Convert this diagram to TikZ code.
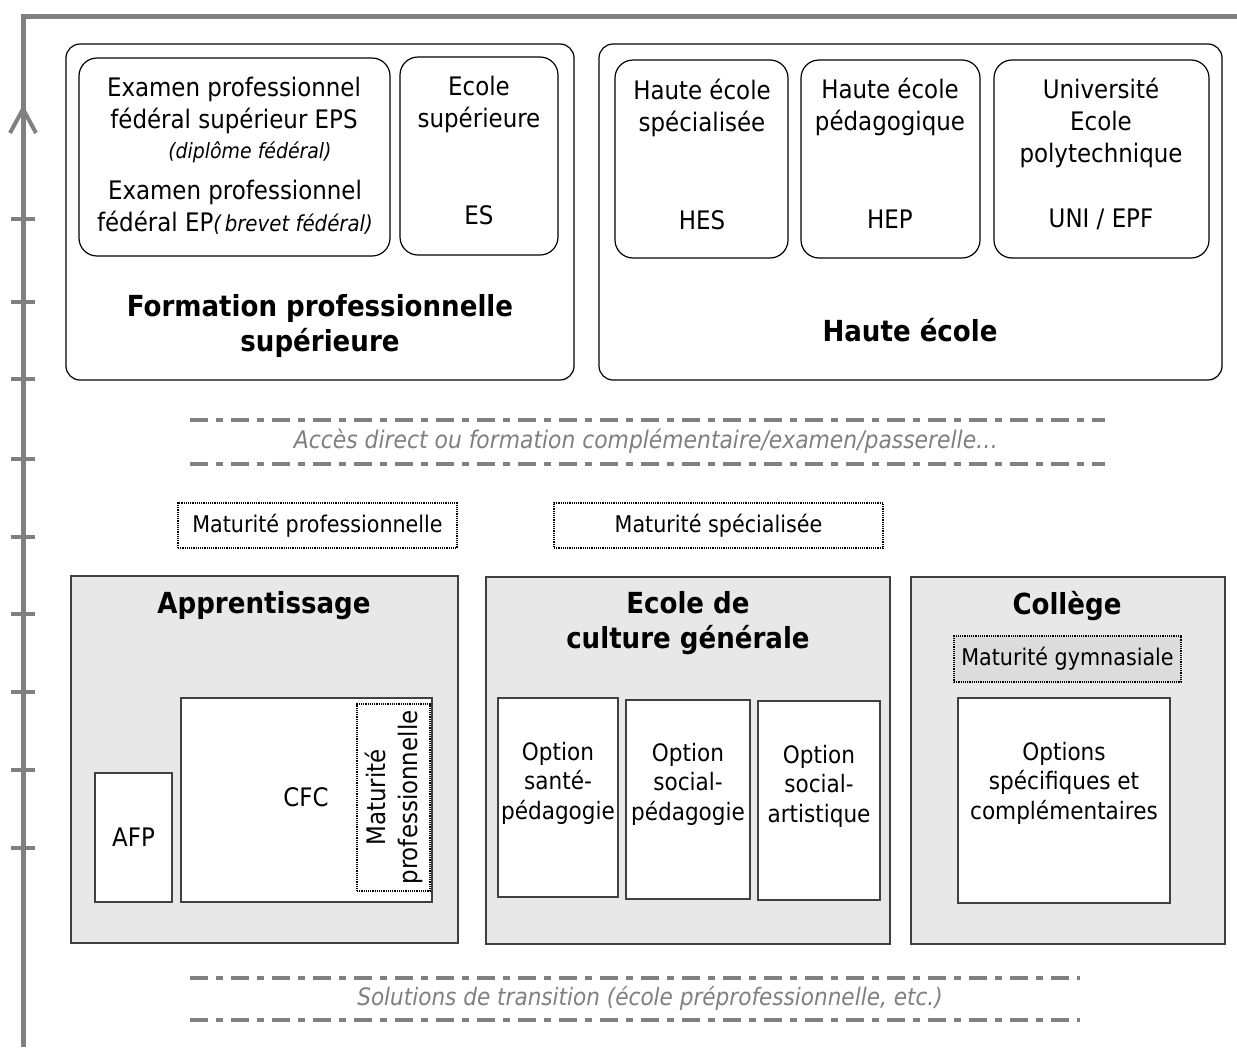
\documentclass[tikz,border=0pt]{standalone}
\usepackage{fontspec}
\setmainfont{DejaVu Sans Condensed}[BoldFont={DejaVu Sans Condensed Bold},ItalicFont={DejaVu Sans Condensed Oblique},BoldItalicFont={DejaVu Sans Condensed Bold Oblique}]
\definecolor{framegray}{HTML}{808080}
\definecolor{boxline}{HTML}{404040}
\definecolor{panelfill}{HTML}{E8E8E8}
\definecolor{matfill}{HTML}{DCDCDC}
\definecolor{notegray}{HTML}{7F7F7F}
\begin{document}
\begin{tikzpicture}[x=1pt,y=-1pt,
  frame/.style={draw=framegray,line width=5pt},
  tickmark/.style={draw=framegray,line width=4pt},
  rbox/.style={draw=black,line width=1.2pt,rounded corners=14pt,inner sep=0pt,outer sep=0pt,anchor=north west},
  panel/.style={draw=boxline,fill=panelfill,line width=1.8pt,inner sep=0pt,outer sep=0pt,anchor=north west},
  wbox/.style={draw=boxline,fill=white,line width=1.8pt,inner sep=0pt,outer sep=0pt,anchor=north west},
  dotbox/.style={draw=black,densely dotted,line width=1.2pt,inner sep=0pt,outer sep=0pt,anchor=north west},
  txt/.style={align=center,inner sep=0pt,font=\fontsize{25.5}{32}\selectfont},
  smalltxt/.style={align=center,inner sep=0pt,font=\fontsize{23}{28}\selectfont},
  opttxt/.style={align=center,inner sep=0pt,font=\fontsize{24}{29.5}\selectfont},
  title/.style={align=center,inner sep=0pt,font=\fontsize{29}{35}\selectfont\bfseries},
  note/.style={align=center,inner sep=0pt,text=notegray,font=\fontsize{24.3}{30}\selectfont\itshape},
  dashdot/.style={draw=framegray,line width=4pt,dash pattern=on 18pt off 8pt on 7pt off 8pt}
]
\useasboundingbox (0,0) rectangle (1237,1047);
% frame
\coordinate (ftop) at (1237,16);
\coordinate (fcorner) at (23,16);
\coordinate (fbottom) at (23,1047);
\draw[frame] (ftop) -- (fcorner) -- (fbottom);
\coordinate (arrL) at (10,133);
\coordinate (arrA) at (23,109);
\coordinate (arrR) at (36,133);
\draw[frame,line width=4pt] (arrL) -- (arrA) -- (arrR);
\foreach \ty [count=\i] in {219,302,379,459,537,614,692,770,848}{
  \coordinate (tl\i) at (11,\ty);
  \coordinate (tr\i) at (35,\ty);
  \draw[tickmark] (tl\i) -- (tr\i);
}
% Formation professionnelle superieure
\node[rbox,minimum width=508pt,minimum height=336pt] (fps) at (66,44) {};
\node[rbox,rounded corners=18pt,minimum width=311pt,minimum height=198pt] (eps) at (79,58) {};
\node[rbox,rounded corners=18pt,minimum width=158pt,minimum height=198pt] (es) at (400,57) {};
\node[txt] (epst) at (234,105) {Examen professionnel\\fédéral supérieur EPS};
\node[align=center,inner sep=0pt,font=\fontsize{21}{26}\selectfont\itshape] (epsd) at (250,152) {(diplôme fédéral)};
\node[txt] (ept) at (235,207) {Examen professionnel\\fédéral EP{\fontsize{22}{26}\selectfont\itshape(\,brevet fédéral)}};
\node[txt] (est) at (479,104) {Ecole\\supérieure};
\node[txt] (esa) at (479,215) {ES};
\node[title] (fpst) at (320,326) {Formation professionnelle\\supérieure};
% Haute ecole
\node[rbox,minimum width=623pt,minimum height=336pt] (he) at (599,44) {};
\node[rbox,rounded corners=18pt,minimum width=173pt,minimum height=198pt] (hes) at (615,60) {};
\node[rbox,rounded corners=18pt,minimum width=179pt,minimum height=198pt] (hep) at (801,60) {};
\node[rbox,rounded corners=18pt,minimum width=215pt,minimum height=198pt] (uni) at (994,60) {};
\node[txt] (hest) at (702,108) {Haute école\\spécialisée};
\node[txt] (hesa) at (702,220) {HES};
\node[txt] (hept) at (890,107) {Haute école\\pédagogique};
\node[txt] (hepa) at (890,219) {HEP};
\node[txt] (unit) at (1101,123) {Université\\Ecole\\polytechnique};
\node[txt] (unia) at (1101,219) {UNI / EPF};
\node[title] (het) at (910,330) {Haute école};
% access lines
\coordinate (a1l) at (190,420); \coordinate (a1r) at (1105,420);
\coordinate (a2l) at (190,464); \coordinate (a2r) at (1105,464);
\draw[dashdot] (a1l) -- (a1r);
\draw[dashdot] (a2l) -- (a2r);
\node[note] (acc) at (646,441) {Accès direct ou formation complémentaire/examen/passerelle…};
% maturites
\node[dotbox,minimum width=279pt,minimum height=45pt] (mp) at (178,503) {};
\node[smalltxt] at (mp.center) {Maturité professionnelle};
\node[dotbox,minimum width=329pt,minimum height=45pt] (ms) at (554,503) {};
\node[smalltxt] at (ms.center) {Maturité spécialisée};
% Apprentissage
\node[panel,minimum width=387pt,minimum height=367pt] (app) at (71,576) {};
\node[title] (appt) at (264,606) {Apprentissage};
\node[wbox,minimum width=77pt,minimum height=129pt] (afp) at (95,773) {};
\node[txt] at (afp.center) {AFP};
\node[wbox,minimum width=251pt,minimum height=204pt] (cfc) at (181,698) {};
\node[txt] (cfct) at (306,797) {CFC};
\node[dotbox,minimum width=73pt,minimum height=187pt] (mpv) at (357,704) {};
\node[txt,rotate=90] at (mpv.center) {Maturité\\professionnelle};
% ECG
\node[panel,minimum width=404pt,minimum height=367pt] (ecg) at (486,577) {};
\node[title] (ecgt) at (688,623) {Ecole de\\culture générale};
\node[wbox,minimum width=120pt,minimum height=199pt] (o1) at (498,698) {};
\node[wbox,minimum width=124pt,minimum height=199pt] (o2) at (626,700) {};
\node[wbox,minimum width=122pt,minimum height=199pt] (o3) at (758,701) {};
\node[opttxt] (o1t) at (558,783) {Option\\santé-\\pédagogie};
\node[opttxt] (o2t) at (688,784) {Option\\social-\\pédagogie};
\node[opttxt] (o3t) at (819,786) {Option\\social-\\artistique};
% College
\node[panel,minimum width=314pt,minimum height=367pt] (col) at (911,577) {};
\node[title] (colt) at (1067,606) {Collège};
\node[dotbox,fill=matfill,minimum width=227pt,minimum height=46pt] (mg) at (954,636) {};
\node[smalltxt] at (mg.center) {Maturité gymnasiale};
\node[wbox,minimum width=212pt,minimum height=205pt] (osc) at (958,698) {};
\node[opttxt] (osct) at (1064,783) {Options\\spécifiques et\\complémentaires};
% transition lines
\coordinate (t1l) at (190,978); \coordinate (t1r) at (1080,978);
\coordinate (t2l) at (190,1020); \coordinate (t2r) at (1080,1020);
\draw[dashdot] (t1l) -- (t1r);
\draw[dashdot] (t2l) -- (t2r);
\node[note,font=\fontsize{24}{30}\selectfont\itshape] (trans) at (650,998) {Solutions de transition (école préprofessionnelle, etc.)};
\end{tikzpicture}
\end{document}
